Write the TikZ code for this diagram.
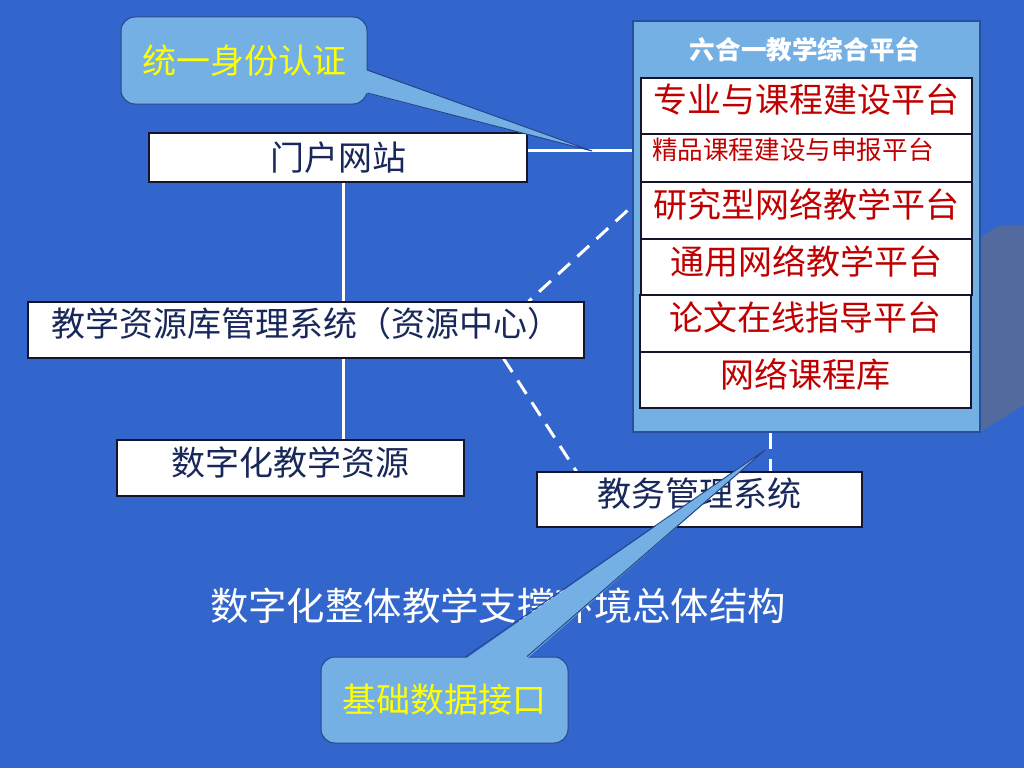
\documentclass[tikz,border=0pt]{standalone}
\usepackage{fontspec}
\setmainfont{Noto Sans CJK SC}
\pgfdeclarelayer{bg}
\pgfsetlayers{bg,main}
\definecolor{bgblue}{RGB}{51,102,204}
\definecolor{lightblue}{RGB}{116,176,228}
\definecolor{calloutline}{RGB}{40,70,140}
\definecolor{platline}{RGB}{40,80,160}
\definecolor{navy}{RGB}{25,40,90}
\definecolor{redtext}{RGB}{192,0,0}
\definecolor{yel}{RGB}{255,255,0}
\definecolor{greyface}{RGB}{82,106,158}
\definecolor{boxline}{RGB}{20,20,45}
\newcommand{\fs}[1]{\fontsize{#1}{#1}\selectfont}
\newcommand{\lift}[2][6pt]{\raisebox{#1}[\height][\depth]{#2}}
\tikzset{
  box/.style={draw=boxline, line width=1.2pt, fill=white, inner sep=0pt, text=navy, font=\fs{34}},
  pbox/.style={box, text=redtext, minimum width=331pt},
  wline/.style={draw=white, line width=3pt},
  dline/.style={wline, dash pattern=on 16pt off 10pt},
  callbox/.style={draw=calloutline, line width=1pt, fill=lightblue, rounded corners=14pt, text=yel, font=\fs{34}, inner sep=0pt},
  cedge/.style={draw=calloutline, line width=1pt},
}
\begin{document}
\begin{tikzpicture}[x=1pt,y=-1pt]
\useasboundingbox (0,0) rectangle (1024,768);
% platform
\node[draw=platline, fill=lightblue, line width=1.2pt, minimum width=347pt, minimum height=411pt, inner sep=0pt] (platform) at (806.5,226.5) {};
\node[text=white, font=\fs{25.6}\bfseries] (ptitle) at (805,50) {六合一教学综合平台};
\node[pbox, minimum height=56pt] (p1) at (806.5,106) {\lift{专业与课程建设平台}};
\node[pbox, minimum height=48pt, font=\fs{25.6}, text width=309pt, align=left, inner xsep=11pt] (p2) at (806.5,158) {\lift[8pt]{精品课程建设与申报平台}};
\node[pbox, minimum height=57pt] (p3) at (806.5,210.5) {\lift{研究型网络教学平台}};
\node[pbox, minimum height=56pt] (p4) at (806.5,267) {\lift{通用网络教学平台}};
\node[pbox, minimum height=57pt] (p5) at (805.5,323.5) {\lift{论文在线指导平台}};
\node[pbox, minimum height=56pt] (p6) at (805.5,380) {\lift{网络课程库}};
% left boxes
\node[box, minimum width=378pt, minimum height=49pt] (portal) at (338,157.5) {门户网站};
\node[box, minimum width=556pt, minimum height=56pt] (res) at (306,330) {\lift{教学资源库管理系统（资源中心）}};
\node[box, minimum width=347pt, minimum height=56pt] (digi) at (290.5,468) {\lift{数字化教学资源}};
\node[box, minimum width=325pt, minimum height=55pt] (jw) at (699.5,499.5) {\lift{教务管理系统}};
% title
\node[text=white, font=\fs{38.4}] (title) at (498,606) {数字化整体教学支撑环境总体结构};
\begin{pgfonlayer}{bg}
  \fill[bgblue] (0,0) rectangle (1024,768);
  \fill[greyface] (980,238) -- (998,226) -- (1024,226) -- (1024,405) -- (980,432) -- cycle;
  \draw[wline] ([yshift=7pt]portal.east) -- ([yshift=7pt]portal.east -| platform.west);
  \draw[wline] ([xshift=5pt]portal.south) -- ([xshift=5pt]portal.south |- digi.north);
  \draw[dline] ([xshift=-5pt]platform.west |- p3.center) -- ([xshift=-56pt]res.north east);
  \draw[dline] ([xshift=-81pt]res.south east) -- ([xshift=40pt]jw.north west);
  \draw[dline] ([xshift=-36pt]platform.south) -- ([xshift=-36pt]platform.south |- jw.north);
\end{pgfonlayer}
% callout 1
\node[callbox, minimum width=246pt, minimum height=87pt] (auth) at (244,60.5) {统一身份认证};
\coordinate (tip1) at (592,151);
\fill[lightblue] ([xshift=-2pt,yshift=-9.5pt]auth.east) -- (tip1) -- ([xshift=-2pt,yshift=-32.5pt]auth.east) -- cycle;
\draw[cedge] ([yshift=-9.5pt]auth.east) -- (tip1) -- ([yshift=-32.5pt]auth.east);
% callout 2
\node[callbox, minimum width=247pt, minimum height=86pt] (iface) at (444.5,700) {基础数据接口};
\coordinate (tip2) at (765,450);
\fill[lightblue] ([xshift=21.5pt,yshift=-2pt]iface.north) -- (tip2) -- ([xshift=82.5pt,yshift=-2pt]iface.north) -- cycle;
\draw[cedge] ([xshift=21.5pt]iface.north) -- (tip2) -- ([xshift=82.5pt]iface.north);
\end{tikzpicture}
\end{document}
